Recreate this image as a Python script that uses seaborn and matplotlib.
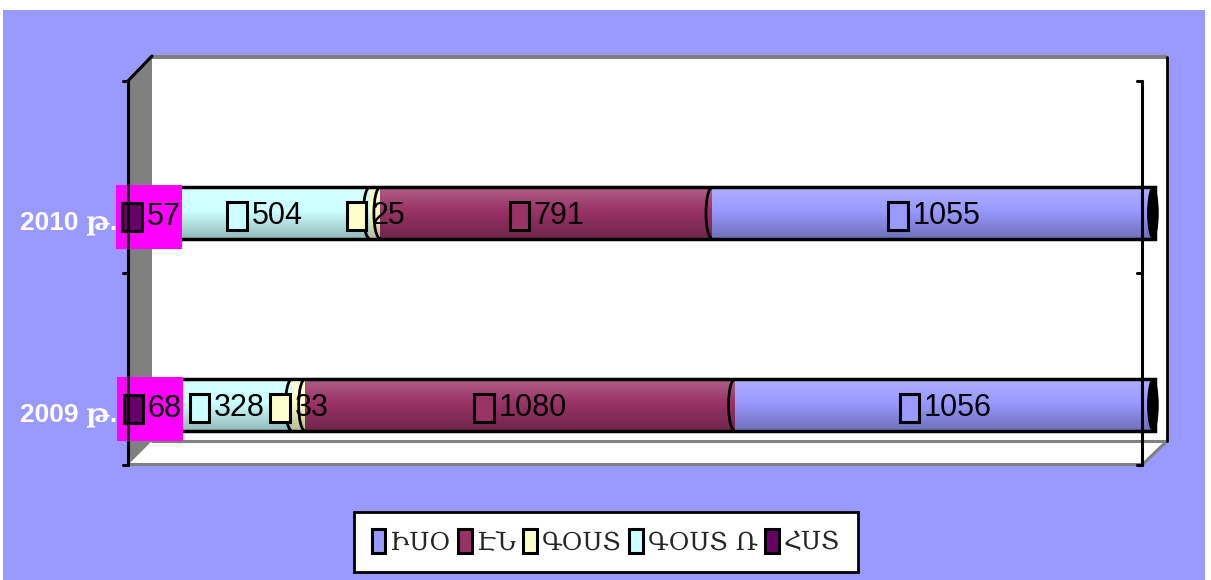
import matplotlib
matplotlib.use("Agg")
import matplotlib.pyplot as plt
import seaborn as sns
import numpy as np
from matplotlib.patches import Rectangle, Polygon, Ellipse, Arc, Patch
from matplotlib.offsetbox import AnnotationBbox, HPacker, TextArea, DrawingArea
from matplotlib.transforms import ScaledTranslation

# chart data
categories = ["2010 թ.", "2009 թ."]
series = ["ԻՍՕ", "ԷՆ", "ԳՕՍՏ", "ԳՕՍՏ Ռ", "ՀՍՏ"]
iso = [1055, 1056]
en = [791, 1080]
gost = [25, 33]
gost_r = [504, 328]
hst = [57, 68]
colors = ["#9999FF", "#993366", "#FFFFCC", "#CCFFFF", "#660066"]

values = np.array([iso, en, gost, gost_r, hst], dtype=float)
totals = values.sum(axis=0)
pct = values / totals * 100
cum = np.cumsum(pct, axis=0)

num_font = ["Liberation Sans", "DejaVu Sans"]
arm_font = ["DejaVu Serif", "DejaVu Sans"]

sns.set_style("white")
plt.rcParams["font.family"] = num_font

fig = plt.figure(figsize=(12.11, 5.80), dpi=100, facecolor="white")

# background drawn in pixel coordinates
bg = fig.add_axes([0, 0, 1, 1], zorder=0)
bg.set_xlim(0, 1211)
bg.set_ylim(580, 0)
bg.axis("off")
bg.add_patch(Rectangle((3, 10), 1202, 570, facecolor="#9999FF", edgecolor="none"))
# back wall and 3d box
bg.add_patch(Rectangle((152, 55), 1015, 386, facecolor="white", edgecolor="none"))
bg.add_patch(Rectangle((152, 55), 1015, 4, facecolor="#808080", edgecolor="none"))
bg.add_patch(Polygon([(128, 81), (152, 56), (152, 441), (128, 465)],
                     facecolor="#808080", edgecolor="none"))
bg.add_patch(Polygon([(128, 465), (152, 441), (1167, 441), (1142, 465)],
                     facecolor="white", edgecolor="none"))
bg.plot([152, 1167], [441, 441], color="#808080", lw=2.2)
bg.plot([128, 1142], [464, 464], color="#808080", lw=2.2)
bg.plot([1167, 1142], [441, 465], color="#808080", lw=2.2)
bg.plot([1167, 1167], [57, 441], color="black", lw=2.0)

# chart axes
ax = fig.add_axes([128 / 1211, 1 - 465 / 580, (1166 - 128) / 1211, (465 - 58) / 580], zorder=2)
ax.patch.set_alpha(0)

bar_w = 0.266
for i in range(len(series) - 1, -1, -1):
    sns.barplot(x=cum[i], y=categories, orient="h", color=colors[i], saturation=1,
                width=bar_w, linewidth=0, ax=ax, zorder=2)

# cylinder shading: light top, darker bottom
shade = np.zeros((64, 1, 4))
t = np.linspace(0, 1, 64)
shade[:, 0, :3] = np.where(t[:, None] < 0.45, 1.0, 0.0)
shade[:, 0, 3] = np.where(t < 0.45, 0.22 * (0.45 - t) / 0.45, 0.28 * (t - 0.45) / 0.55)
for j in range(len(categories)):
    ax.imshow(shade, extent=(cum[-1][j], 0, j + bar_w / 2, j - bar_w / 2),
              aspect="auto", zorder=2.5, interpolation="bilinear")

sns.barplot(x=cum[-1], y=categories, orient="h", fill=False, color="black",
            width=bar_w, linewidth=2.5, ax=ax, zorder=3)

for j in range(len(categories)):
    for i in range(len(series) - 1):
        ax.add_patch(Arc((cum[i][j], j), 1.2, bar_w, theta1=-90, theta2=90,
                         color="black", lw=2, zorder=3))
    ax.add_patch(Ellipse((0.2, j), 1.0, bar_w, facecolor="black", edgecolor="black", zorder=4))

# value labels: square key + number, centered in each segment
for i in range(len(series)):
    for j in range(len(categories)):
        da = DrawingArea(17, 23, 0, 0)
        da.add_artist(Rectangle((1.5, 1.5), 14, 20, facecolor=colors[i], edgecolor="black", lw=2.2))
        ta = TextArea(str(int(values[i][j])),
                      textprops=dict(fontsize=22, color="black", family=num_font))
        items = [da, ta]
        if i == len(series) - 1:
            items = [DrawingArea(0, 44, 0, 0), da, ta]
        pack = HPacker(children=items, sep=2, pad=0, align="center")
        xc = cum[i][j] - pct[i][j] / 2
        if i == len(series) - 1:
            ab = AnnotationBbox(pack, (xc, j), xybox=(2, -3), boxcoords="offset points",
                                frameon=True, pad=0.1,
                                bboxprops=dict(facecolor="#FF00FF", edgecolor="none",
                                               boxstyle="square,pad=0.1"), zorder=6)
        else:
            ab = AnnotationBbox(pack, (xc, j), xybox=(0, -2), boxcoords="offset points",
                                frameon=False, zorder=5)
        ax.add_artist(ab)

ax.set_xlim(100.59, -1.08)
ax.set_ylim(1.3125, -0.807)
ax.set_xticks([])
ax.set_xlabel("")
ax.set_ylabel("")
for s in ax.spines.values():
    s.set_visible(False)
ax.tick_params(axis="y", length=0, pad=8)
ax.set_yticks(range(len(categories)))
ax.set_yticklabels(categories, fontsize=19, fontweight="bold", color="white",
                   family=["Liberation Sans", "DejaVu Serif"])
for lab in ax.get_yticklabels():
    lab.set_transform(lab.get_transform() + ScaledTranslation(0, -7 / 100, fig.dpi_scale_trans))

# front edges of the box on top of bars
fg = fig.add_axes([0, 0, 1, 1], zorder=3)
fg.set_xlim(0, 1211)
fg.set_ylim(580, 0)
fg.axis("off")
fg.patch.set_alpha(0)
fg.plot([128, 128], [81, 465], color="black", lw=2.2)
fg.plot([128, 152], [81, 56], color="black", lw=2.2)
fg.plot([1142, 1142], [81, 465], color="black", lw=2.2)
for yy in [81, 273, 465]:
    fg.plot([123, 128], [yy, yy], color="black", lw=2.2)
    fg.plot([1137, 1142], [yy, yy], color="black", lw=2.2)

handles = [Patch(facecolor=c, edgecolor="black", lw=2.2) for c in colors]
leg = fig.legend(handles, series, loc="center", bbox_to_anchor=(606 / 1211, 1 - 542 / 580),
                 ncol=5, frameon=True, fancybox=False, framealpha=1, edgecolor="black",
                 prop=dict(family=arm_font, size=18), handlelength=0.55, handleheight=1.05,
                 handletextpad=0.2, columnspacing=0.3, borderpad=0.7, borderaxespad=0)
leg.get_frame().set_linewidth(2)

fig.savefig("out.png", dpi=100, facecolor="white")
